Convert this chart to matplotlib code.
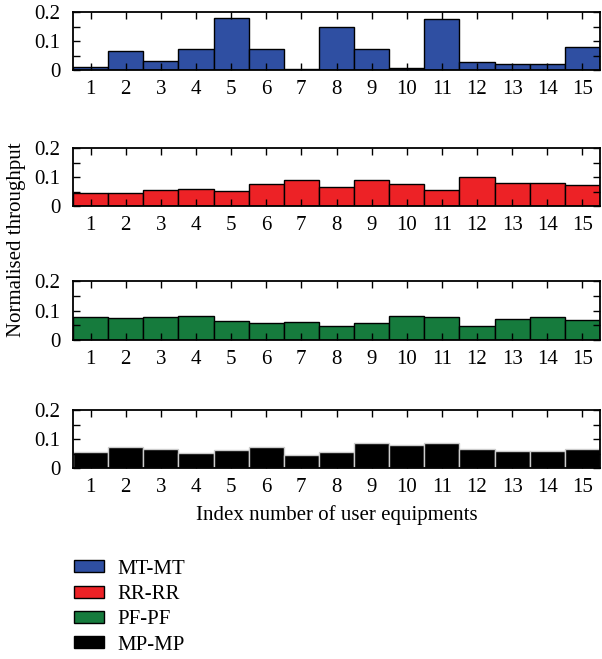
import numpy as np
import matplotlib
matplotlib.use("Agg")
from matplotlib import pyplot as plt
from matplotlib.patches import Patch

plt.rcParams['font.family'] = ['Liberation Serif', 'DejaVu Serif']

ues = np.arange(1, 16)
mt_mt = [0.010, 0.065, 0.031, 0.072, 0.179, 0.073, 0.005, 0.147, 0.074, 0.007,
         0.177, 0.029, 0.022, 0.020, 0.080]
rr_rr = [0.046, 0.044, 0.055, 0.057, 0.052, 0.075, 0.090, 0.064, 0.090, 0.075,
         0.055, 0.099, 0.078, 0.080, 0.072]
pf_pf = [0.077, 0.075, 0.078, 0.083, 0.066, 0.059, 0.060, 0.047, 0.058, 0.083,
         0.077, 0.048, 0.070, 0.078, 0.067]
mp_mp = [0.054, 0.071, 0.064, 0.053, 0.062, 0.071, 0.045, 0.054, 0.086, 0.080,
         0.085, 0.067, 0.060, 0.060, 0.064]

series = [("MT-MT", mt_mt, '#2f4fa2', 'k'),
          ("RR-RR", rr_rr, '#ed2226', 'k'),
          ("PF-PF", pf_pf, '#167b3d', 'k'),
          ("MP-MP", mp_mp, 'black', '0.8')]

W, H = 602, 659
fs = 15
fig = plt.figure(figsize=(W/100, H/100), dpi=100)

# panel top / bottom in pixels
panels = [(12, 70), (148, 206), (281, 340), (410, 468)]
left, right = 73, 600

axes = []
for (top, bot), (name, vals, col, ec) in zip(panels, series):
    ax = fig.add_axes([left/W, 1-bot/H, (right-left)/W, (bot-top)/H])
    ax.bar(ues, vals, width=1.0, color=col, edgecolor=ec, lw=1.0)
    ax.set_xlim(0.5, 15.5)
    ax.set_ylim(0, 0.2)
    ax.set_xticks(ues)
    ax.set_yticks([0, 0.1, 0.2])
    ax.set_yticklabels(['0', '0.1', '0.2'])
    ax.set_yticks([0.05, 0.15], minor=True)
    ax.tick_params(which='both', direction='in', top=True, right=True,
                   labelsize=fs, length=5, width=1)
    ax.tick_params(axis='x', pad=7)
    ax.tick_params(axis='y', pad=9)
    for s in ax.spines.values():
        s.set_linewidth(1.3)
    axes.append(ax)

axes[-1].set_xlabel("Index number of user equipments", fontsize=fs, labelpad=6)
fig.text(17/W, 1-240/H, "Normalised throughput", rotation=90,
         ha='center', va='center', fontsize=fs)

handles = [Patch(facecolor=col, edgecolor='k', lw=1)
           for name, vals, col, ec in series]
fig.legend(handles, [s[0] for s in series], loc='upper left',
           bbox_to_anchor=(55/W, 1-541/H), frameon=False, fontsize=fs,
           handlelength=1.45, handleheight=0.5, labelspacing=0.3, handletextpad=0.65)

plt.savefig("out.png")
